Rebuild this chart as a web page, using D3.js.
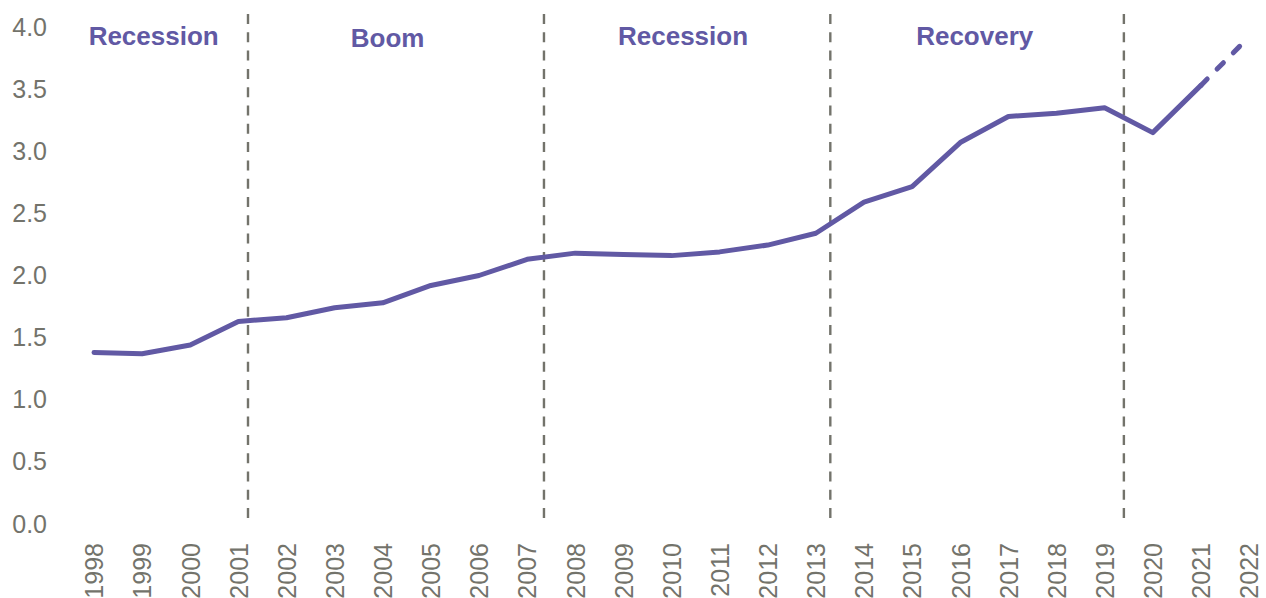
<!DOCTYPE html>
<html>
<head>
<meta charset="utf-8">
<script src="https://cdn.jsdelivr.net/npm/d3@7"></script>
<style>
  html, body { margin: 0; padding: 0; background: #ffffff; }
  svg { display: block; }
</style>
</head>
<body>
<svg id="chart" width="1266" height="598"></svg>
<script>
// ---- data ----
const years = [1998, 1999, 2000, 2001, 2002, 2003, 2004, 2005, 2006, 2007, 2008, 2009,
               2010, 2011, 2012, 2013, 2014, 2015, 2016, 2017, 2018, 2019, 2020, 2021, 2022];
const values = [1.38, 1.37, 1.44, 1.63, 1.66, 1.74, 1.78, 1.92, 2.00, 2.13, 2.18, 2.17,
                2.16, 2.19, 2.245, 2.34, 2.59, 2.715, 3.07, 3.28, 3.305, 3.35, 3.15, 3.53, 3.92];
const forecastFrom = 2021;               // line is dashed after this year
const yTicks = [0, 0.5, 1.0, 1.5, 2.0, 2.5, 3.0, 3.5, 4.0];
const dividerYears = [2001.2, 2007.35, 2013.3, 2019.4];
const periodLabels = ["Recession", "Boom", "Recession", "Recovery"];
const periodLabelYears = [1999.24, 2004.1, 2010.24, 2016.3];

// ---- layout ----
const purple = "#6159a4";
const grey = "#73736b";
const svg = d3.select("#chart");

const x = d3.scaleLinear().domain([1998, 2022]).range([94, 1249]);
const y = d3.scaleLinear().domain([0, 4]).range([524, 27]);

// y axis labels
const yAxis = d3.axisLeft(y).tickValues(yTicks).tickFormat(d3.format(".1f")).tickSize(0).tickPadding(0);
const gy = svg.append("g").attr("transform", "translate(47,0)").call(yAxis);
gy.select(".domain").remove();
gy.selectAll("text")
  .attr("fill", grey)
  .style("font-family", "'Liberation Sans', Arial, sans-serif")
  .style("font-size", "25px");

// x axis labels (rotated)
const xAxis = d3.axisBottom(x).tickValues(years).tickFormat(d3.format("d")).tickSize(0).tickPadding(0);
const gx = svg.append("g").attr("transform", "translate(0,543)").call(xAxis);
gx.select(".domain").remove();
gx.selectAll("text")
  .attr("fill", grey)
  .attr("transform", "rotate(-90)")
  .attr("x", 0)
  .attr("y", 0)
  .attr("dy", "0.35em")
  .attr("text-anchor", "end")
  .style("font-family", "'Liberation Sans', Arial, sans-serif")
  .style("font-size", "25px");

// divider lines
svg.append("g").selectAll("line")
  .data(dividerYears)
  .join("line")
  .attr("x1", d => x(d)).attr("x2", d => x(d))
  .attr("y1", 14).attr("y2", 526)
  .attr("stroke", grey)
  .attr("stroke-width", 2.4)
  .attr("stroke-dasharray", "10,8.3");

// period labels
svg.append("g").selectAll("text")
  .data(periodLabels)
  .join("text")
  .attr("x", (d, i) => x(periodLabelYears[i]))
  .attr("y", (d, i) => d === "Boom" ? 47 : 45)
  .attr("text-anchor", "middle")
  .attr("fill", purple)
  .style("font-family", "'Liberation Sans', Arial, sans-serif")
  .style("font-weight", "bold")
  .style("font-size", "26px")
  .text(d => d);

// line
const pts = years.map((yr, i) => ({ yr, v: values[i] }));
const lineGen = d3.line().x(d => x(d.yr)).y(d => y(d.v));

svg.append("path")
  .datum(pts.filter(d => d.yr <= forecastFrom))
  .attr("d", lineGen)
  .attr("fill", "none")
  .attr("stroke", purple)
  .attr("stroke-width", 5)
  .attr("stroke-linejoin", "round")
  .attr("stroke-linecap", "round");

svg.append("path")
  .datum(pts.filter(d => d.yr >= forecastFrom))
  .attr("d", lineGen)
  .attr("fill", "none")
  .attr("stroke", purple)
  .attr("stroke-width", 5)
  .attr("stroke-linecap", "round")
  .attr("stroke-dasharray", "9,14");
</script>
</body>
</html>
